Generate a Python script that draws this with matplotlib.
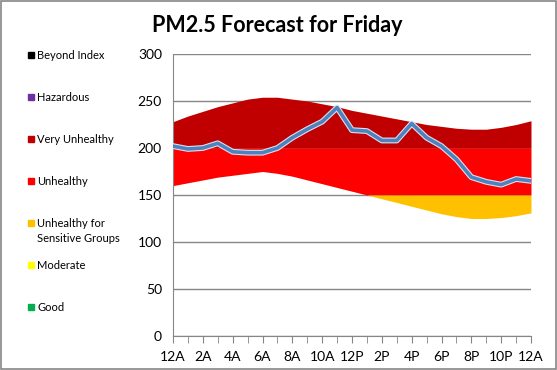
import numpy as np
import matplotlib.pyplot as plt
import matplotlib.patheffects as pe

# hourly forecast, 12A .. 12A
hours = list(range(25))
pm25 = [202, 199, 200, 205, 196, 195, 195, 200, 211, 220, 228, 243, 219,
        218, 208, 208, 226, 211, 202, 188, 169, 164, 161, 167, 165]
band_hi = [228, 234, 239, 244, 248, 252, 254, 254, 252, 250, 247, 244, 240,
           237, 234, 231, 228, 225, 223, 221, 220, 220, 222, 225, 229]
band_lo = [160, 163, 166, 169, 171, 173, 175, 173, 170, 166, 162, 158, 154,
           150, 146, 142, 138, 134, 130, 127, 125, 125, 126, 128, 131]
hour_labels = ['12A', '2A', '4A', '6A', '8A', '10A', '12P',
               '2P', '4P', '6P', '8P', '10P', '12A']

# AQI categories (top to bottom as listed on the left)
cat_names = ['Beyond Index', 'Hazardous', 'Very Unhealthy', 'Unhealthy',
             'Unhealthy for\nSensitive Groups', 'Moderate', 'Good']
cat_colors = ['#000000', '#7030A0', '#C00000', '#FF0000',
              '#FFC000', '#FFFF00', '#00B050']
cat_lo = [500, 300, 200, 150, 100, 50, 0]
cat_hi = [1000, 500, 300, 200, 150, 100, 50]

plt.rcParams['font.family'] = ['Lato', 'DejaVu Sans']

fig = plt.figure(figsize=(5.57, 3.70), dpi=100)
ax = fig.add_axes([173 / 557, 1 - 336 / 370, 358 / 557, 282 / 370])

x = np.array(hours)
lo = np.array(band_lo)
hi = np.array(band_hi)
for c, a, b in zip(cat_colors, cat_lo, cat_hi):
    y1 = np.maximum(lo, a)
    y2 = np.minimum(hi, b)
    ax.fill_between(x, y1, y2, where=y2 > y1, color=c, lw=0,
                    interpolate=True, zorder=2)

ax.plot(hours, pm25, color='#4F81BD', lw=2.6, zorder=4,
        path_effects=[pe.Stroke(linewidth=4.2, foreground='#D4E2F4'),
                      pe.Normal()])

ax.set_xlim(0, 24)
ax.set_ylim(0, 300)
ax.set_yticks(range(0, 301, 50))
ax.set_xticks(range(0, 25, 2))
ax.set_xticks(range(25), minor=True)
ax.set_xticklabels(hour_labels)
ax.grid(axis='y', color='#868686', lw=1, zorder=1)
ax.set_axisbelow(True)
for s in ['top', 'right']:
    ax.spines[s].set_visible(False)
for s in ['left', 'bottom']:
    ax.spines[s].set_color('#868686')
ax.tick_params(axis='x', which='both', length=5, color='#868686',
               labelsize=10, pad=6)
ax.tick_params(axis='y', length=0, labelsize=10, pad=8)

fig.text(277 / 557, 1 - 25 / 370, 'PM2.5 Forecast for Friday', ha='center',
         va='center', fontsize=15.5, fontweight='bold')

# category key on the left
for i, (name, c) in enumerate(zip(cat_names, cat_colors)):
    yp = 55 + 42 * i
    fig.patches.append(plt.Rectangle((28 / 557, 1 - (yp + 3) / 370),
                                     6 / 557, 6 / 370, color=c,
                                     transform=fig.transFigure))
    fig.text(37 / 557, 1 - (yp - 5) / 370, name, ha='left', va='top',
             fontsize=8, linespacing=1.45)

# outer frame
fig.patches.append(plt.Rectangle((0.002, 0.003), 0.996, 0.994, fill=False,
                                 ec='#868686', lw=1.2,
                                 transform=fig.transFigure))

fig.savefig('out.png', dpi=100)
